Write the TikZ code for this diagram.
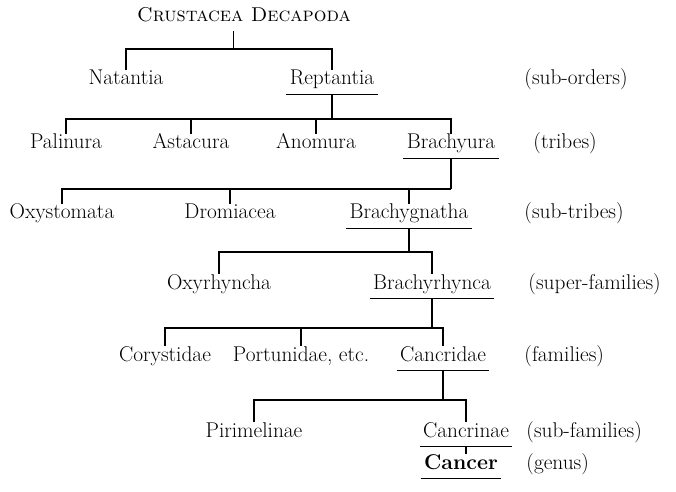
\documentclass[tikz,border=0pt]{standalone}
\usepackage{tikz}
\usetikzlibrary{positioning}
\tikzset{taxon/.style = {font=\fontsize{16}{19}\selectfont, anchor=base,
                         inner sep=2pt, text height=9pt, text depth=4.5pt}}
\tikzset{rank/.style = {taxon, anchor=base west}}
\tikzset{
  every picture/.style={
    every path/.style={line width=1.2pt},
  }
}

\begin{document}
\begin{tikzpicture}[x=0.75pt, y=-0.75pt]
  \useasboundingbox (0,0) rectangle (676,492);
  % taxa, row by row
  \node[taxon, font=\fontsize{15}{18}\selectfont] (root) at (244,22) {\textsc{Crustacea Decapoda}};
  \node[taxon] (nat) at (126,85) {Natantia};
  \node[taxon] (rept) at (332,85) {Reptantia};
  \node[taxon] (pal) at (66,149) {Palinura};
  \node[taxon] (asta) at (191,149) {Astacura};
  \node[taxon] (anom) at (316,149) {Anomura};
  \node[taxon] (brachyura) at (451,149) {Brachyura};
  \node[taxon] (oxys) at (62,219) {Oxystomata};
  \node[taxon] (drom) at (230,219) {Dromiacea};
  \node[taxon] (brachyg) at (409,219) {Brachygnatha};
  \node[taxon] (oxyr) at (219,289) {Oxyrhyncha};
  \node[taxon] (brachyr) at (432,289) {Brachyrhynca};
  \node[taxon] (cory) at (165,361) {Corystidae};
  \node[taxon] (portu) at (301,361) {Portunidae, etc.};
  \node[taxon] (cancridae) at (443,361) {Cancridae};
  \node[taxon] (pirim) at (254,437) {Pirimelinae};
  \node[taxon] (cancrinae) at (466,437) {Cancrinae};
  \node[taxon] (cancer) at (461,469) {\textbf{Cancer}};
  % ranks on the right
  \node[rank] (suborders) at (521,85) {(sub-orders)};
  \node[rank] (tribes) at (530,149) {(tribes)};
  \node[rank] (subtribes) at (521,219) {(sub-tribes)};
  \node[rank] (superfam) at (525,289) {(super-families)};
  \node[rank] (fam) at (521,361) {(families)};
  \node[rank] (subfam) at (523,437) {(sub-families)};
  \node[rank] (genus) at (523,469) {(genus)};
  % bars
  \coordinate (b1) at (0,49);
  \coordinate (b2) at (0,119);
  \coordinate (b3) at (0,189);
  \coordinate (b4) at (0,252);
  \coordinate (b5) at (0,328);
  \coordinate (b6) at (0,400);
  % underlines
  \draw (rept.south west) -- (rept.south east);
  \draw (brachyura.south west) -- (brachyura.south east);
  \draw (brachyg.south west) -- (brachyg.south east);
  \draw (brachyr.south west) -- (brachyr.south east);
  \draw (cancridae.south west) -- (cancridae.south east);
  \draw (cancrinae.south west) -- (cancrinae.south east);
  \draw (cancer.south west) -- (cancer.south east);
  % branches
  \draw ([xshift=-8pt]root.south) -- ([xshift=-8pt]root.south |- b1);
  \draw (nat.north) |- (b1 -| rept.north) -- (rept.north);
  \draw (rept.south) -- (rept.south |- b2);
  \draw (pal.north) |- (b2 -| brachyura.north) -- (brachyura.north);
  \draw (asta.north) -- (asta.north |- b2);
  \draw (anom.north) -- (anom.north |- b2);
  \draw (brachyura.south) -- (brachyura.south |- b3);
  \draw (oxys.north) |- (b3 -| brachyura.south);
  \draw (drom.north) -- (drom.north |- b3);
  \draw (brachyg.north) -- (brachyg.north |- b3);
  \draw (brachyg.south) -- (brachyg.south |- b4);
  \draw (oxyr.north) |- (b4 -| brachyr.north) -- (brachyr.north);
  \draw (brachyr.south) -- (brachyr.south |- b5);
  \draw (cory.north) |- (b5 -| cancridae.north) -- (cancridae.north);
  \draw (portu.north) -- (portu.north |- b5);
  \draw (cancridae.south) -- (cancridae.south |- b6);
  \draw (pirim.north) |- (b6 -| cancrinae.north) -- (cancrinae.north);
  \draw (cancrinae.south) -- (cancrinae.south |- cancer.north);
\end{tikzpicture}
\end{document}
